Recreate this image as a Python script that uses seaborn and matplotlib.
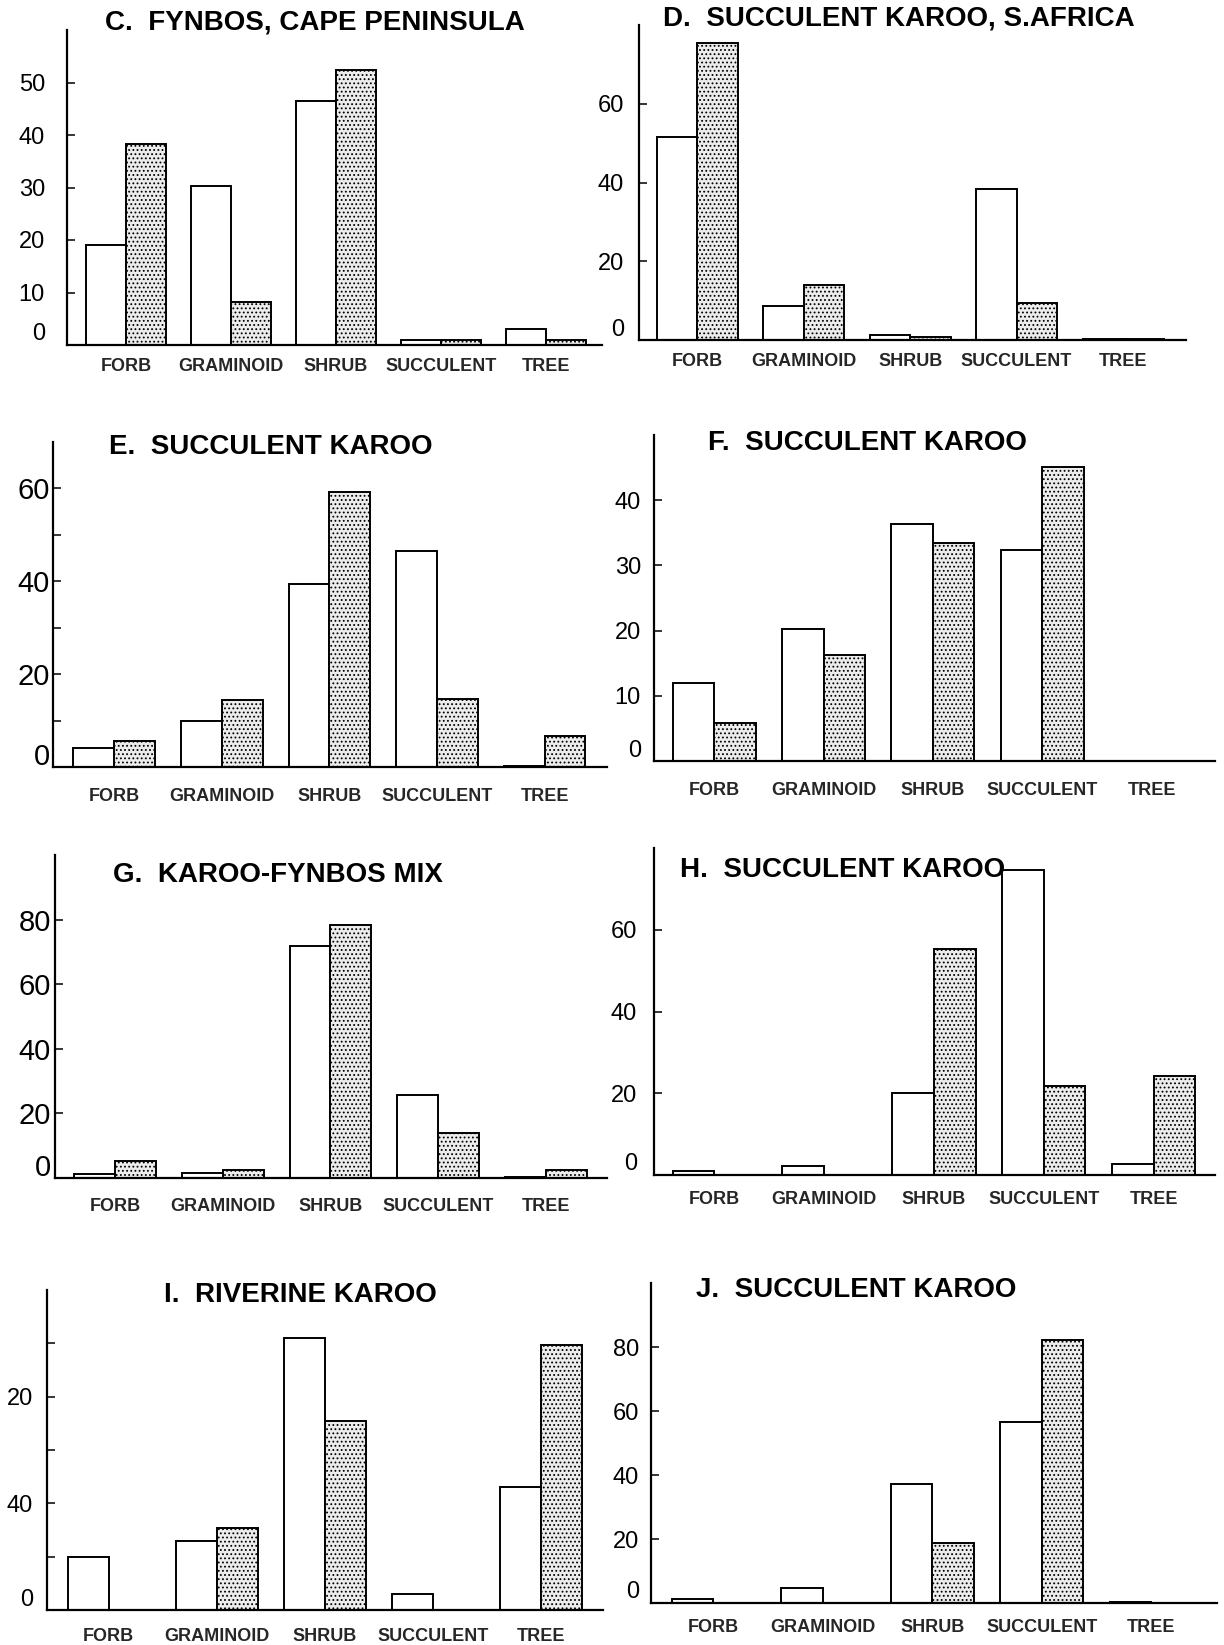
import matplotlib
matplotlib.use("Agg")
import matplotlib.pyplot as plt
import matplotlib.transforms as mtransforms
import pandas as pd
import seaborn as sns

# Growth-form categories shared by every panel
forms = ["FORB", "GRAMINOID", "SHRUB", "SUCCULENT", "TREE"]

# Percent of species per growth form (open bars, stippled bars)
c_open = [19, 30.3, 46.5, 1.0, 3.0]
c_dot = [38.3, 8.2, 52.3, 1.0, 1.0]

d_open = [51.5, 8.6, 1.3, 38.3, 0.2]
d_dot = [75.4, 14.0, 0.8, 9.4, 0.2]

e_open = [4.1, 10.0, 39.5, 46.6, 0.3]
e_dot = [5.7, 14.4, 59.3, 14.7, 6.7]

f_open = [11.9, 20.2, 36.4, 32.4, 0.0]
f_dot = [5.8, 16.2, 33.5, 45.1, 0.0]

g_open = [1.2, 1.6, 71.7, 25.8, 0.3]
g_dot = [5.4, 2.6, 78.2, 14.0, 2.4]

h_open = [1.1, 2.3, 20.0, 74.7, 2.8]
h_dot = [0.0, 0.0, 55.2, 21.8, 24.3]

i_open = [19.8, 25.9, 102.0, 6.0, 46.0]
i_dot = [0.0, 30.9, 71.0, 0.0, 99.4]

j_open = [1.4, 4.6, 37.2, 56.5, 0.3]
j_dot = [0.0, 0.0, 18.6, 82.2, 0.0]

titles = ["C.  FYNBOS, CAPE PENINSULA", "D.  SUCCULENT KAROO, S.AFRICA",
          "E.  SUCCULENT KAROO", "F.  SUCCULENT KAROO",
          "G.  KAROO-FYNBOS MIX", "H.  SUCCULENT KAROO",
          "I.  RIVERINE KAROO", "J.  SUCCULENT KAROO"]

# y tick values / labels per panel
c_ticks, c_labels = [0, 10, 20, 30, 40, 50], ["0", "10", "20", "30", "40", "50"]
d_ticks, d_labels = [0, 20, 40, 60], ["0", "20", "40", "60"]
e_ticks, e_labels = [0, 10, 20, 30, 40, 50, 60], ["0", "", "20", "", "40", "", "60"]
f_ticks, f_labels = [0, 10, 20, 30, 40], ["0", "10", "20", "30", "40"]
g_ticks, g_labels = [0, 20, 40, 60, 80], ["0", "20", "40", "60", "80"]
h_ticks, h_labels = [0, 20, 40, 60], ["0", "20", "40", "60"]
i_ticks, i_labels = [0, 20, 40, 60, 80, 100], ["0", "", "40", "", "20", ""]
j_ticks, j_labels = [0, 20, 40, 60, 80], ["0", "20", "40", "60", "80"]

panels = [
    (c_open, c_dot, c_ticks, c_labels, 60),
    (d_open, d_dot, d_ticks, d_labels, 80),
    (e_open, e_dot, e_ticks, e_labels, 70),
    (f_open, f_dot, f_ticks, f_labels, 50),
    (g_open, g_dot, g_ticks, g_labels, 100),
    (h_open, h_dot, h_ticks, h_labels, 80),
    (i_open, i_dot, i_ticks, i_labels, 120),
    (j_open, j_dot, j_ticks, j_labels, 100),
]

# axes boxes in pixels: x_left, x_right, y_top, y_baseline
boxes = [
    (67, 602, 30, 345), (639, 1186, 25, 340),
    (53, 607, 442, 767), (654, 1215, 435, 761),
    (55, 607, 855, 1178), (654, 1215, 848, 1175),
    (47, 603, 1290, 1610), (651, 1217, 1283, 1603),
]
# category axis limits for each panel
xlims = [(-0.56, 4.53), (-0.545, 4.59), (-0.57, 4.58), (-0.55, 4.58),
         (-0.56, 4.57), (-0.55, 4.56), (-0.57, 4.57), (-0.57, 4.60)]
# gap (px) between baseline and category labels
xpads = [13, 13, 21, 21, 20, 16, 18, 16]
# gap (px) between y axis and value labels, and value label size (pt)
ypads = [22, 15, 3, 13, 4, 17, 14, 12]
ysizes = [17, 17, 21, 17, 21, 17, 17, 17]
# title anchors in pixels: x_left, y_center
title_pos = [(105, 23), (663, 18), (109, 447), (708, 443),
             (113, 875), (680, 870), (164, 1295), (696, 1290)]

W, H = 1224, 1645
sns.set_theme(style="white")
plt.rcParams["font.family"] = ["Liberation Sans", "DejaVu Sans"]
plt.rcParams["hatch.linewidth"] = 0.8
plt.rcParams["hatch.color"] = "#3a3a3a"

fig = plt.figure(figsize=(W / 100, H / 100), dpi=100)
fig.patch.set_facecolor("white")
px = 72 / 100  # points per pixel

for k, (opn, dot, ticks, labels, ytop) in enumerate(panels):
    x0, x1, yt, yb = boxes[k]
    ax = fig.add_axes([x0 / W, 1 - yb / H, (x1 - x0) / W, (yb - yt) / H])
    df = pd.DataFrame({
        "form": forms * 2,
        "value": list(opn) + list(dot),
        "set": ["open"] * len(forms) + ["stippled"] * len(forms),
    })
    sns.barplot(data=df, x="form", y="value", hue="set", order=forms,
                hue_order=["open", "stippled"],
                palette=["white", "#ececec"], edgecolor="black",
                linewidth=1.4, width=0.76, saturation=1, legend=False, ax=ax)
    n = len(forms)
    for p in ax.patches[n:2 * n]:
        p.set_hatch("....")
    ax.set_xlim(*xlims[k])
    ax.set_ylim(0, ytop)
    ax.set_xlabel("")
    ax.set_ylabel("")
    ax.set_yticks(ticks)
    ax.set_yticklabels(labels)
    ax.tick_params(axis="y", direction="in", length=6, width=1.1,
                   labelsize=ysizes[k], pad=ypads[k] * px, left=True,
                   colors="black")
    ax.tick_params(axis="x", length=0, pad=xpads[k] * px)
    for lab in ax.get_xticklabels():
        lab.set_fontsize(13)
        lab.set_fontweight("bold")
    for side in ("top", "right"):
        ax.spines[side].set_visible(False)
    for side in ("left", "bottom"):
        ax.spines[side].set_color("black")
        ax.spines[side].set_linewidth(1.6)
    ax.set_facecolor("white")
    # the zero label sits a little above the baseline
    zero = ax.yaxis.get_major_ticks()[0].label1
    zero.set_transform(zero.get_transform() +
                       mtransforms.ScaledTranslation(0, 13 * px / 72, fig.dpi_scale_trans))
    tx, ty = title_pos[k]
    fig.text(tx / W, 1 - ty / H, titles[k], ha="left", va="center",
             fontsize=20, fontweight="bold", color="black")

fig.savefig("out.png", dpi=100, facecolor="white")
